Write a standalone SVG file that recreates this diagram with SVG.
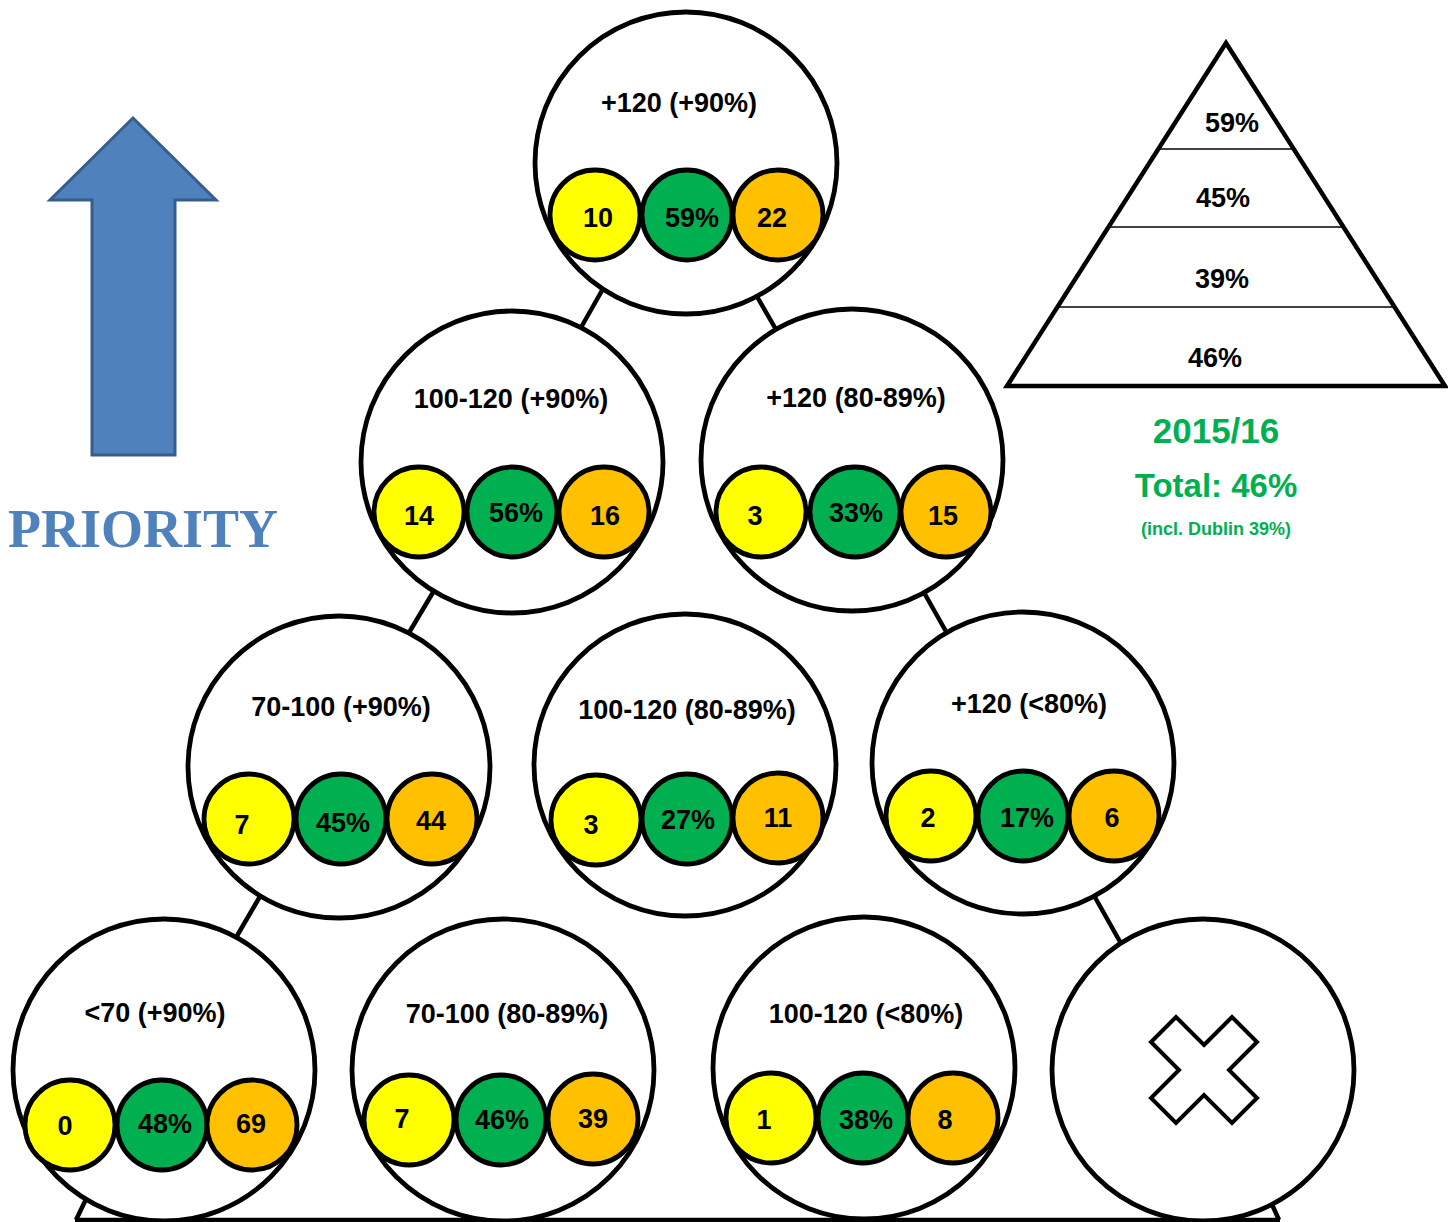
<svg xmlns="http://www.w3.org/2000/svg" width="1448" height="1222" viewBox="0 0 1448 1222">
<style>
.big{fill:#fff;stroke:#000;stroke-width:4.8}
.y{fill:#FFFF00;stroke:#000;stroke-width:4.8}
.g{fill:#00B050;stroke:#000;stroke-width:4.8}
.o{fill:#FFC000;stroke:#000;stroke-width:4.8}
.lbl{font-family:"Liberation Sans",Arial,sans-serif;font-weight:bold;font-size:27px;fill:#000;text-anchor:middle}
.num{font-family:"Liberation Sans",Arial,sans-serif;font-weight:bold;font-size:27px;fill:#000;text-anchor:middle}
.con{stroke:#000;stroke-width:4.5;fill:none}
.grn{font-family:"Liberation Sans",Arial,sans-serif;font-weight:bold;fill:#00B050;text-anchor:middle}
</style>
<rect width="1448" height="1222" fill="#fff"/>

<g id="priority-arrow">
<polygon points="133,118 50,200 92,200 92,455 175,455 175,200 216,200" fill="#4F81BD" stroke="#385D8A" stroke-width="3"/>
<text x="143" y="547" font-family="'Liberation Serif','Times New Roman',serif" font-weight="bold" font-size="54" fill="#4F81BD" text-anchor="middle">PRIORITY</text>
</g>

<g id="connectors">
<line class="con" x1="604" y1="287" x2="579" y2="331"/>
<line class="con" x1="755" y1="293" x2="778" y2="333"/>
<line class="con" x1="435" y1="589" x2="407" y2="636"/>
<line class="con" x1="922" y1="589" x2="948" y2="635"/>
<line class="con" x1="262" y1="893" x2="234" y2="941"/>
<line class="con" x1="1092" y1="892" x2="1123" y2="947"/>
<line class="con" x1="88" y1="1195" x2="76" y2="1220" stroke-width="3"/>
<line class="con" x1="1270" y1="1200" x2="1279" y2="1220" stroke-width="3"/>
<line class="con" x1="75" y1="1220" x2="1280" y2="1220" stroke-width="3"/>
</g>

<g id="node-1">
<circle class="big" cx="686" cy="163" r="151"/>
<text class="lbl" x="679" y="112">+120 (+90%)</text>
<circle class="y" cx="595" cy="215" r="45"/><circle class="g" cx="687" cy="215" r="45"/><circle class="o" cx="778" cy="215" r="45"/>
<text class="num" x="598" y="227">10</text><text class="num" x="692" y="227">59%</text><text class="num" x="772" y="227">22</text>
</g>

<g id="node-2">
<circle class="big" cx="512" cy="462" r="151"/>
<text class="lbl" x="511" y="408">100-120 (+90%)</text>
<circle class="y" cx="419" cy="512" r="45"/><circle class="g" cx="512" cy="512" r="45"/><circle class="o" cx="604" cy="512" r="45"/>
<text class="num" x="419" y="525">14</text><text class="num" x="516" y="522">56%</text><text class="num" x="605" y="525">16</text>
</g>

<g id="node-3">
<circle class="big" cx="852" cy="460" r="151"/>
<text class="lbl" x="856" y="407">+120 (80-89%)</text>
<circle class="y" cx="761" cy="512" r="45"/><circle class="g" cx="855" cy="512" r="45"/><circle class="o" cx="946" cy="512" r="45"/>
<text class="num" x="755" y="525">3</text><text class="num" x="856" y="522">33%</text><text class="num" x="943" y="525">15</text>
</g>

<g id="node-4">
<circle class="big" cx="339" cy="767" r="151"/>
<text class="lbl" x="341" y="716">70-100 (+90%)</text>
<circle class="y" cx="249" cy="819" r="45"/><circle class="g" cx="341" cy="819" r="45"/><circle class="o" cx="432" cy="819" r="45"/>
<text class="num" x="242" y="834">7</text><text class="num" x="343" y="832">45%</text><text class="num" x="431" y="830">44</text>
</g>

<g id="node-5">
<circle class="big" cx="685" cy="765" r="151"/>
<text class="lbl" x="687" y="719">100-120 (80-89%)</text>
<circle class="y" cx="596" cy="820" r="45"/><circle class="g" cx="687" cy="819" r="45"/><circle class="o" cx="778" cy="818" r="45"/>
<text class="num" x="591" y="834">3</text><text class="num" x="688" y="829">27%</text><text class="num" x="778" y="827">11</text>
</g>

<g id="node-6">
<circle class="big" cx="1023" cy="763" r="151"/>
<text class="lbl" x="1029" y="713">+120 (&lt;80%)</text>
<circle class="y" cx="931" cy="816" r="45"/><circle class="g" cx="1023" cy="816" r="45"/><circle class="o" cx="1114" cy="816" r="45"/>
<text class="num" x="928" y="827">2</text><text class="num" x="1027" y="827">17%</text><text class="num" x="1112" y="827">6</text>
</g>

<g id="node-7">
<circle class="big" cx="164" cy="1070" r="151"/>
<text class="lbl" x="155" y="1022">&lt;70 (+90%)</text>
<circle class="y" cx="70" cy="1125" r="45"/><circle class="g" cx="162" cy="1125" r="45"/><circle class="o" cx="252" cy="1125" r="45"/>
<text class="num" x="65" y="1135">0</text><text class="num" x="165" y="1133">48%</text><text class="num" x="251" y="1133">69</text>
</g>

<g id="node-8">
<circle class="big" cx="503" cy="1070" r="151"/>
<text class="lbl" x="507" y="1023">70-100 (80-89%)</text>
<circle class="y" cx="409" cy="1120" r="45"/><circle class="g" cx="501" cy="1120" r="45"/><circle class="o" cx="593" cy="1119" r="45"/>
<text class="num" x="402" y="1128">7</text><text class="num" x="502" y="1129">46%</text><text class="num" x="593" y="1128">39</text>
</g>

<g id="node-9">
<circle class="big" cx="864" cy="1068" r="151"/>
<text class="lbl" x="866" y="1023">100-120 (&lt;80%)</text>
<circle class="y" cx="771" cy="1118" r="45"/><circle class="g" cx="863" cy="1118" r="45"/><circle class="o" cx="953" cy="1118" r="45"/>
<text class="num" x="764" y="1129">1</text><text class="num" x="866" y="1129">38%</text><text class="num" x="945" y="1129">8</text>
</g>

<g id="node-10">
<circle class="big" cx="1203" cy="1070" r="151"/>
<polygon transform="translate(1204,1070)" points="0,-25 28,-53 53,-28 25,0 53,28 28,53 0,25 -28,53 -53,28 -25,0 -53,-28 -28,-53" fill="#fff" stroke="#000" stroke-width="4" stroke-linejoin="miter"/>
</g>

<g id="pyramid">
<polygon points="1226,43 1007,386 1445,386" fill="#fff" stroke="#000" stroke-width="4.5" stroke-linejoin="miter"/>
<line x1="1158" y1="149" x2="1294" y2="149" stroke="#000" stroke-width="1.5"/>
<line x1="1109" y1="227" x2="1343" y2="227" stroke="#000" stroke-width="1.5"/>
<line x1="1057" y1="307" x2="1395" y2="307" stroke="#000" stroke-width="1.5"/>
<text class="num" x="1232" y="132">59%</text>
<text class="num" x="1223" y="207">45%</text>
<text class="num" x="1222" y="288">39%</text>
<text class="num" x="1215" y="367">46%</text>
</g>

<g id="summary">
<text class="grn" x="1216" y="443" font-size="35">2015/16</text>
<text class="grn" x="1216" y="497" font-size="33">Total: 46%</text>
<text class="grn" x="1216" y="535" font-size="18">(incl. Dublin 39%)</text>
</g>
</svg>
